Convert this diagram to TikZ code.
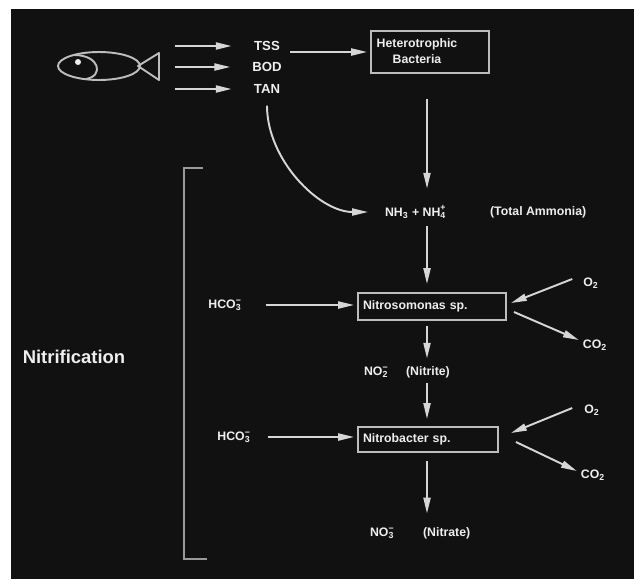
\documentclass[tikz,border=0pt]{standalone}
\usepackage{fontspec}
\setmainfont{Liberation Sans}
\usetikzlibrary{arrows.meta,calc}
\definecolor{bg}{HTML}{111111}
\definecolor{txt}{HTML}{EEEEEE}
\definecolor{linec}{HTML}{D6D6D6}
\definecolor{boxc}{HTML}{BDBDBD}
\definecolor{brk}{HTML}{9A9A9A}
% ion with stacked charge and subscript
\newcommand\chemion[2]{\rlap{\textsuperscript{#2}}\textsubscript{#1}}
\begin{document}
\begin{tikzpicture}[x=0.02cm,y=-0.02cm,
  lbl/.style={text=txt, font=\bfseries\fontsize{7}{9.5}\selectfont, inner sep=1pt},
  src/.style={lbl, font=\bfseries\fontsize{7.5}{9}\selectfont, minimum width=0.6cm},
  box/.style={lbl, draw=boxc, line width=1.1pt, inner xsep=0.1cm, align=left},
  flow/.style={draw=linec, line width=1.1pt, -{Triangle[length=9pt,width=4pt]}},
  fishline/.style={draw=boxc, line width=1.1pt}]
\useasboundingbox (0,0) rectangle (634,579);
\fill[white] (0,0) rectangle (634,579);
\fill[bg] (11,9) rectangle (634,579);

% fish
\draw[fishline] (99,66) ellipse [x radius=0.82cm, y radius=0.28cm];
\draw[fishline, line join=round] (138,66) -- (159,53) -- (159,80) -- cycle;
\fill[txt] (78,62) circle [radius=0.06cm];
\draw[fishline] (74,55) .. controls (100,55) and (104,76) .. (86,79);

% waste products
\node[src] (tss) at (267,46) {TSS};
\node[src] (bod) at (267,67) {BOD};
\node[src] (tan) at (267,89) {TAN};
\coordinate (f1) at (175,46);
\coordinate (f2) at (175,67);
\coordinate (f3) at (175,89);
\draw[flow, shorten >=0.4cm] (f1) -- (tss);
\draw[flow, shorten >=0.4cm] (f2) -- (bod);
\draw[flow, shorten >=0.4cm] (f3) -- (tan);

% heterotrophic bacteria
\node[box, minimum width=2.36cm, minimum height=0.84cm] (het) at (430,52) {};
\node[lbl, align=center] (hett) at (417,51) {Heterotrophic\\Bacteria};
\draw[flow, shorten <=0.16cm, shorten >=0.06cm] (tss.east |- het.west) -- (het.west);

% ammonia
\coordinate (axis) at (427,0);
\node[lbl, anchor=west] (nh) at (383,212) {NH\textsubscript{3} + NH\chemion{4}{+}};
\node[lbl, anchor=west] (tam) at (488,212) {(Total Ammonia)};
\draw[flow, shorten <=0.5cm, shorten >=0.3cm] (het.south -| axis) -- (nh.north -| axis);
\draw[flow, shorten <=0.2cm, shorten >=0.3cm] (tan.south) to[out=-90, in=180] (nh.west);

% nitrosomonas
\node[box, text width=2.76cm, minimum height=0.54cm] (nso) at (432,306.5) {Nitrosomonas sp.};
\draw[flow, shorten <=0.12cm, shorten >=0.16cm] (nh.south -| axis) -- (nso.north -| axis);
\node[lbl] (hco1) at (225,305) {HCO\chemion{3}{−}};
\draw[flow, shorten <=0.44cm, shorten >=0.06cm] (hco1.east) -- (hco1.east -| nso.west);
\node[lbl] (o2a) at (591,283) {O\textsubscript{2}};
\node[lbl] (co2a) at (595,345) {CO\textsubscript{2}};
\draw[flow] ($(o2a.west)+(-9,-4)$) -- ($(nso.east)+(4,-3.5)$);
\draw[flow] ($(nso.east)+(7,5.5)$) -- ($(co2a.west)+(-2,-5)$);

% nitrite
\node[lbl, anchor=west] (no2) at (362,372) {NO\chemion{2}{−}};
\node[lbl, anchor=west] (nit2) at (404,372) {(Nitrite)};
\draw[flow, shorten <=0.1cm, shorten >=0.12cm] (nso.south -| axis) -- (no2.north -| axis);

% nitrobacter
\node[box, text width=2.6cm, minimum height=0.5cm] (nb) at (428,439.5) {Nitrobacter sp.};
\draw[flow, shorten <=0.08cm, shorten >=0.14cm] (no2.south -| axis) -- (nb.north -| axis);
\node[lbl] (hco2) at (234,437) {HCO\chemion{3}{−}};
\draw[flow, shorten <=0.3cm, shorten >=0.06cm] (hco2.east) -- (hco2.east -| nb.west);
\node[lbl] (o2b) at (592,410) {O\textsubscript{2}};
\node[lbl] (co2b) at (593,475) {CO\textsubscript{2}};
\draw[flow] ($(o2b.west)+(-10,-2)$) -- ($(nb.east)+(12,-6.5)$);
\draw[flow] ($(nb.east)+(17,2.5)$) -- ($(co2b.west)+(-2,-4)$);

% nitrate
\node[lbl, anchor=west] (no3) at (368,533) {NO\chemion{3}{−}};
\node[lbl, anchor=west] (nit3) at (421,533) {(Nitrate)};
\draw[flow, shorten <=0.16cm, shorten >=0.24cm] (nb.south -| axis) -- (no3.north -| axis);

% nitrification bracket
\draw[draw=brk, line width=1.1pt] (203,168) -- (184,168) -- (184,559) -- (207,559);
\node[lbl, font=\bfseries\fontsize{10.5}{12}\selectfont] (nit) at (74,357) {Nitrification};
\end{tikzpicture}
\end{document}
